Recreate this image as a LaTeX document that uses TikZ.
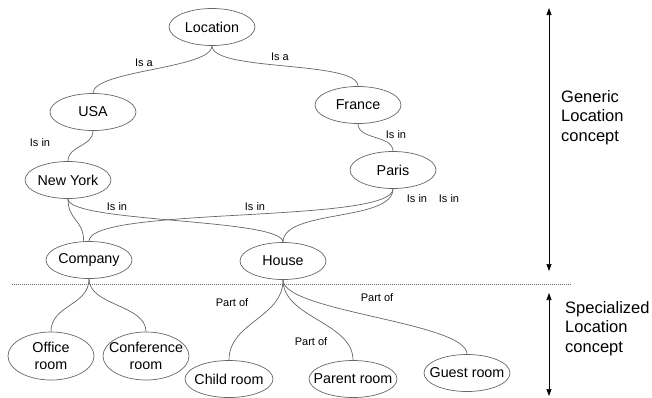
\documentclass[tikz,border=0pt]{standalone}
\usepackage{fontspec}
\setmainfont{Liberation Sans}
\usetikzlibrary{shapes.geometric,arrows.meta}
\newcommand{\zw}[1]{\makebox[0pt][c]{#1}}
\begin{document}
\begin{tikzpicture}[x=1pt,y=-1pt,
  concept/.style={ellipse,draw=black!60,line width=0.7pt,minimum width=86pt,minimum height=37pt,
    inner sep=0pt,font=\fontsize{14.3}{16.5}\selectfont,align=center},
  rel/.style={draw=black!60,line width=0.7pt},
  lbl/.style={font=\fontsize{11}{13}\selectfont,inner sep=0pt},
  side/.style={font=\fontsize{16.5}{19.5}\selectfont,align=left,anchor=base west,inner sep=0pt},
  span/.style={draw=black,line width=0.7pt,{Triangle[length=7pt,width=5pt]}-{Triangle[length=7pt,width=5pt]}},
  divider/.style={draw=black!60,line width=0.6pt,dash pattern=on 1pt off 1pt}
]
\useasboundingbox (0,0) rectangle (652,397);

% concept nodes
\node[concept] (loc) at (212,27) {\zw{Location}};
\node[concept] (usa) at (93,112) {\zw{USA}};
\node[concept] (ny) at (68,180) {\zw{New York}};
\node[concept] (fra) at (358,105) {\zw{France}};
\node[concept] (par) at (393,170) {\zw{Paris}};
\node[concept] (comp) at (89,260) {\zw{Company}};
\node[concept] (house) at (283,261) {\zw{House}};
\node[concept,minimum height=48pt] (off) at (51,356) {\zw{Office}\\\zw{room}};
\node[concept,minimum height=48pt] (conf) at (146,356) {\zw{Conference}\\\zw{room}};
\node[concept,minimum width=88pt] (child) at (229,379) {\zw{Child room}};
\node[concept,minimum width=88pt] (parent) at (353,379) {\zw{Parent room}};
\node[concept] (guest) at (467,373) {\zw{Guest room}};

% connectors
\draw[rel] (loc.south) .. controls +(0,23) and +(0,-23) .. (usa.north);
\draw[rel] (loc.south) .. controls +(0,26) and +(0,-26) .. (fra.north);
\draw[rel] (usa.south) .. controls +(0,16) and +(0,-16) .. (ny.north);
\draw[rel] (fra.south) .. controls +(0,16) and +(0,-16) .. (par.north);
\draw[rel] (ny.south) .. controls +(0,22) and +(0,-22) .. (comp.106);
\draw[rel] (ny.south) .. controls +(0,24) and +(0,-24) .. (house.north);
\draw[rel] (par.south) .. controls +(0,35) and +(0,-35) .. (comp.north);
\draw[rel] (par.south) .. controls +(0,33) and +(0,-33) .. (house.north);
\draw[rel] (comp.south) .. controls +(0,27) and +(0,-27) .. (off.north);
\draw[rel] (comp.south) .. controls +(0,27) and +(0,-27) .. (conf.north);
\draw[rel] (house.south) .. controls +(0,38) and +(0,-38) .. (child.north);
\draw[rel] (house.south) .. controls +(0,38) and +(0,-38) .. (parent.north);
\draw[rel] (house.south) .. controls +(0,32) and +(0,-32) .. (guest.north);

% connector labels
\node[lbl] (isa1) at (144,63) {Is a};
\node[lbl] (isa2) at (280,57) {Is a};
\node[lbl] (isin1) at (40,143) {Is in};
\node[lbl] (isin2) at (396,135) {Is in};
\node[lbl] (isin3) at (117,207) {Is in};
\node[lbl] (isin4) at (255,207) {Is in};
\node[lbl] (isin5) at (417,199) {Is in};
\node[lbl] (isin6) at (449,199) {Is in};
\node[lbl] (part1) at (232,303) {Part of};
\node[lbl] (part2) at (311,342) {Part of};
\node[lbl] (part3) at (377,298) {Part of};

% divider
\coordinate (d1) at (12,284);
\coordinate (d2) at (572,284);
\draw[divider] (d1) -- (d2);

% side arrows and texts
\coordinate (g1) at (549,8);
\coordinate (g2) at (549,271);
\draw[span] (g1) -- (g2);
\coordinate (s1) at (549,293);
\coordinate (s2) at (549,396);
\draw[span] (s1) -- (s2);
\node[side] (gen) at (561,141) {Generic\\Location\\concept};
\node[side] (spec) at (565,352) {Specialized\\Location\\concept};
\end{tikzpicture}
\end{document}
